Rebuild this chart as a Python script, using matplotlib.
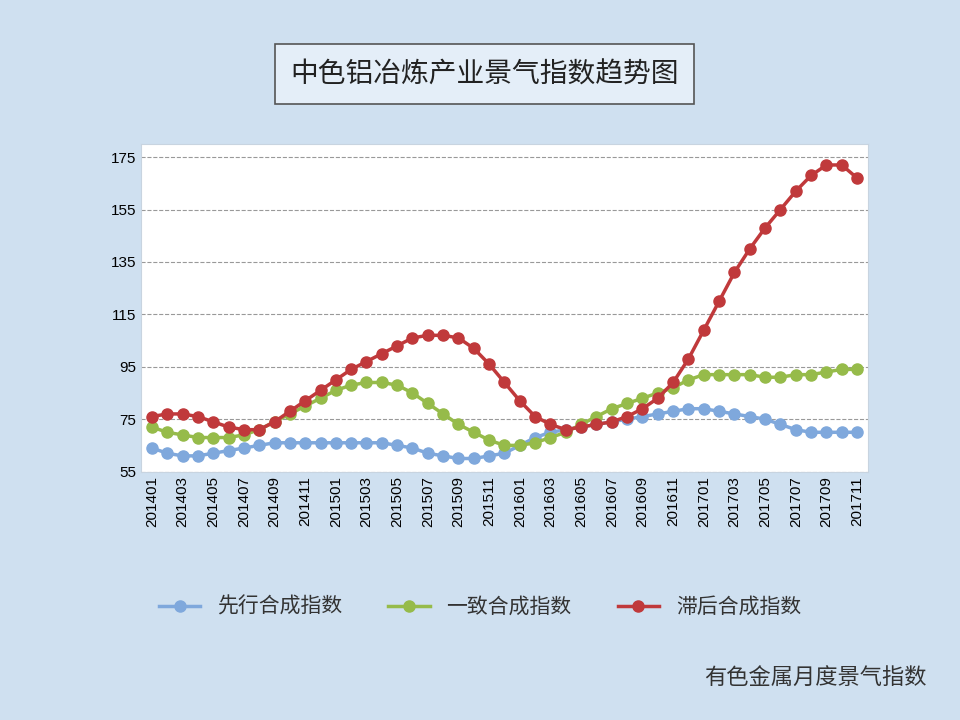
import matplotlib.pyplot as plt
import matplotlib.patches as mpatches

plt.rcParams['font.family'] = ['Noto Sans CJK SC', 'DejaVu Sans']

months = [f'{y}{m:02d}' for y in range(2014, 2018) for m in range(1, 13)][:47]
leading = [64, 62, 61, 61, 62, 63, 64, 65, 66, 66, 66, 66, 66, 66, 66, 66, 65, 64, 62, 61,
           60, 60, 61, 62, 65, 68, 70, 71, 72, 73, 74, 75, 76, 77, 78, 79, 79, 78, 77, 76,
           75, 73, 71, 70, 70, 70, 70]
coincident = [72, 70, 69, 68, 68, 68, 69, 71, 74, 77, 80, 83, 86, 88, 89, 89, 88, 85, 81, 77,
              73, 70, 67, 65, 65, 66, 68, 70, 73, 76, 79, 81, 83, 85, 87, 90, 92, 92, 92, 92,
              91, 91, 92, 92, 93, 94, 94]
lagging = [76, 77, 77, 76, 74, 72, 71, 71, 74, 78, 82, 86, 90, 94, 97, 100, 103, 106, 107, 107,
           106, 102, 96, 89, 82, 76, 73, 71, 72, 73, 74, 76, 79, 83, 89, 98, 109, 120, 131, 140,
           148, 155, 162, 168, 172, 172, 167]
names = ['先行合成指数', '一致合成指数', '滞后合成指数']
colors = ['#7fa8dc', '#96bb4a', '#c0393b']

fig = plt.figure(figsize=(9.6, 7.2), dpi=100)
fig.patch.set_facecolor('#cfe0f0')

ax = fig.add_axes([0.147, 0.345, 0.757, 0.455])
ax.set_facecolor('white')
for sp in ax.spines.values():
    sp.set_color('#c8d4e0')
x = list(range(len(months)))
for s, c in zip([leading, coincident, lagging], colors):
    ax.plot(x, s, color=c, lw=2.5, marker='o', ms=8, mec=c, zorder=3)
ax.set_ylim(55, 180)
ax.set_yticks(range(55, 176, 20))
ax.set_xlim(-0.7, len(months) - 0.3)
ax.set_xticks(x[::2])
ax.set_xticklabels(months[::2], rotation=90, fontsize=11, family='Liberation Sans')
for lab in ax.get_yticklabels():
    lab.set_fontfamily('Liberation Sans')
ax.tick_params(axis='y', labelsize=11, length=0)
ax.tick_params(axis='x', length=0)
ax.grid(axis='y', ls='--', color='#999999', lw=0.8)

handles = [plt.Line2D([], [], color=c, lw=2.5, marker='o', ms=8) for c in colors]
fig.legend(handles, names, loc='center', bbox_to_anchor=(0.5, 0.157), ncol=3, frameon=False,
           fontsize=15, handlelength=2.0, columnspacing=2.2, labelcolor='#333333')

fig.text(0.505, 0.897, '中色铝冶炼产业景气指数趋势图', ha='center', va='center', fontsize=20,
         color='#222222',
         bbox=dict(boxstyle='square,pad=0.55', facecolor='#e4eef8', edgecolor='#555555', lw=1.2))
fig.text(0.965, 0.058, '有色金属月度景气指数', ha='right', va='center', fontsize=16, color='#333333')

fig.savefig('out.png', dpi=100, facecolor=fig.get_facecolor())
